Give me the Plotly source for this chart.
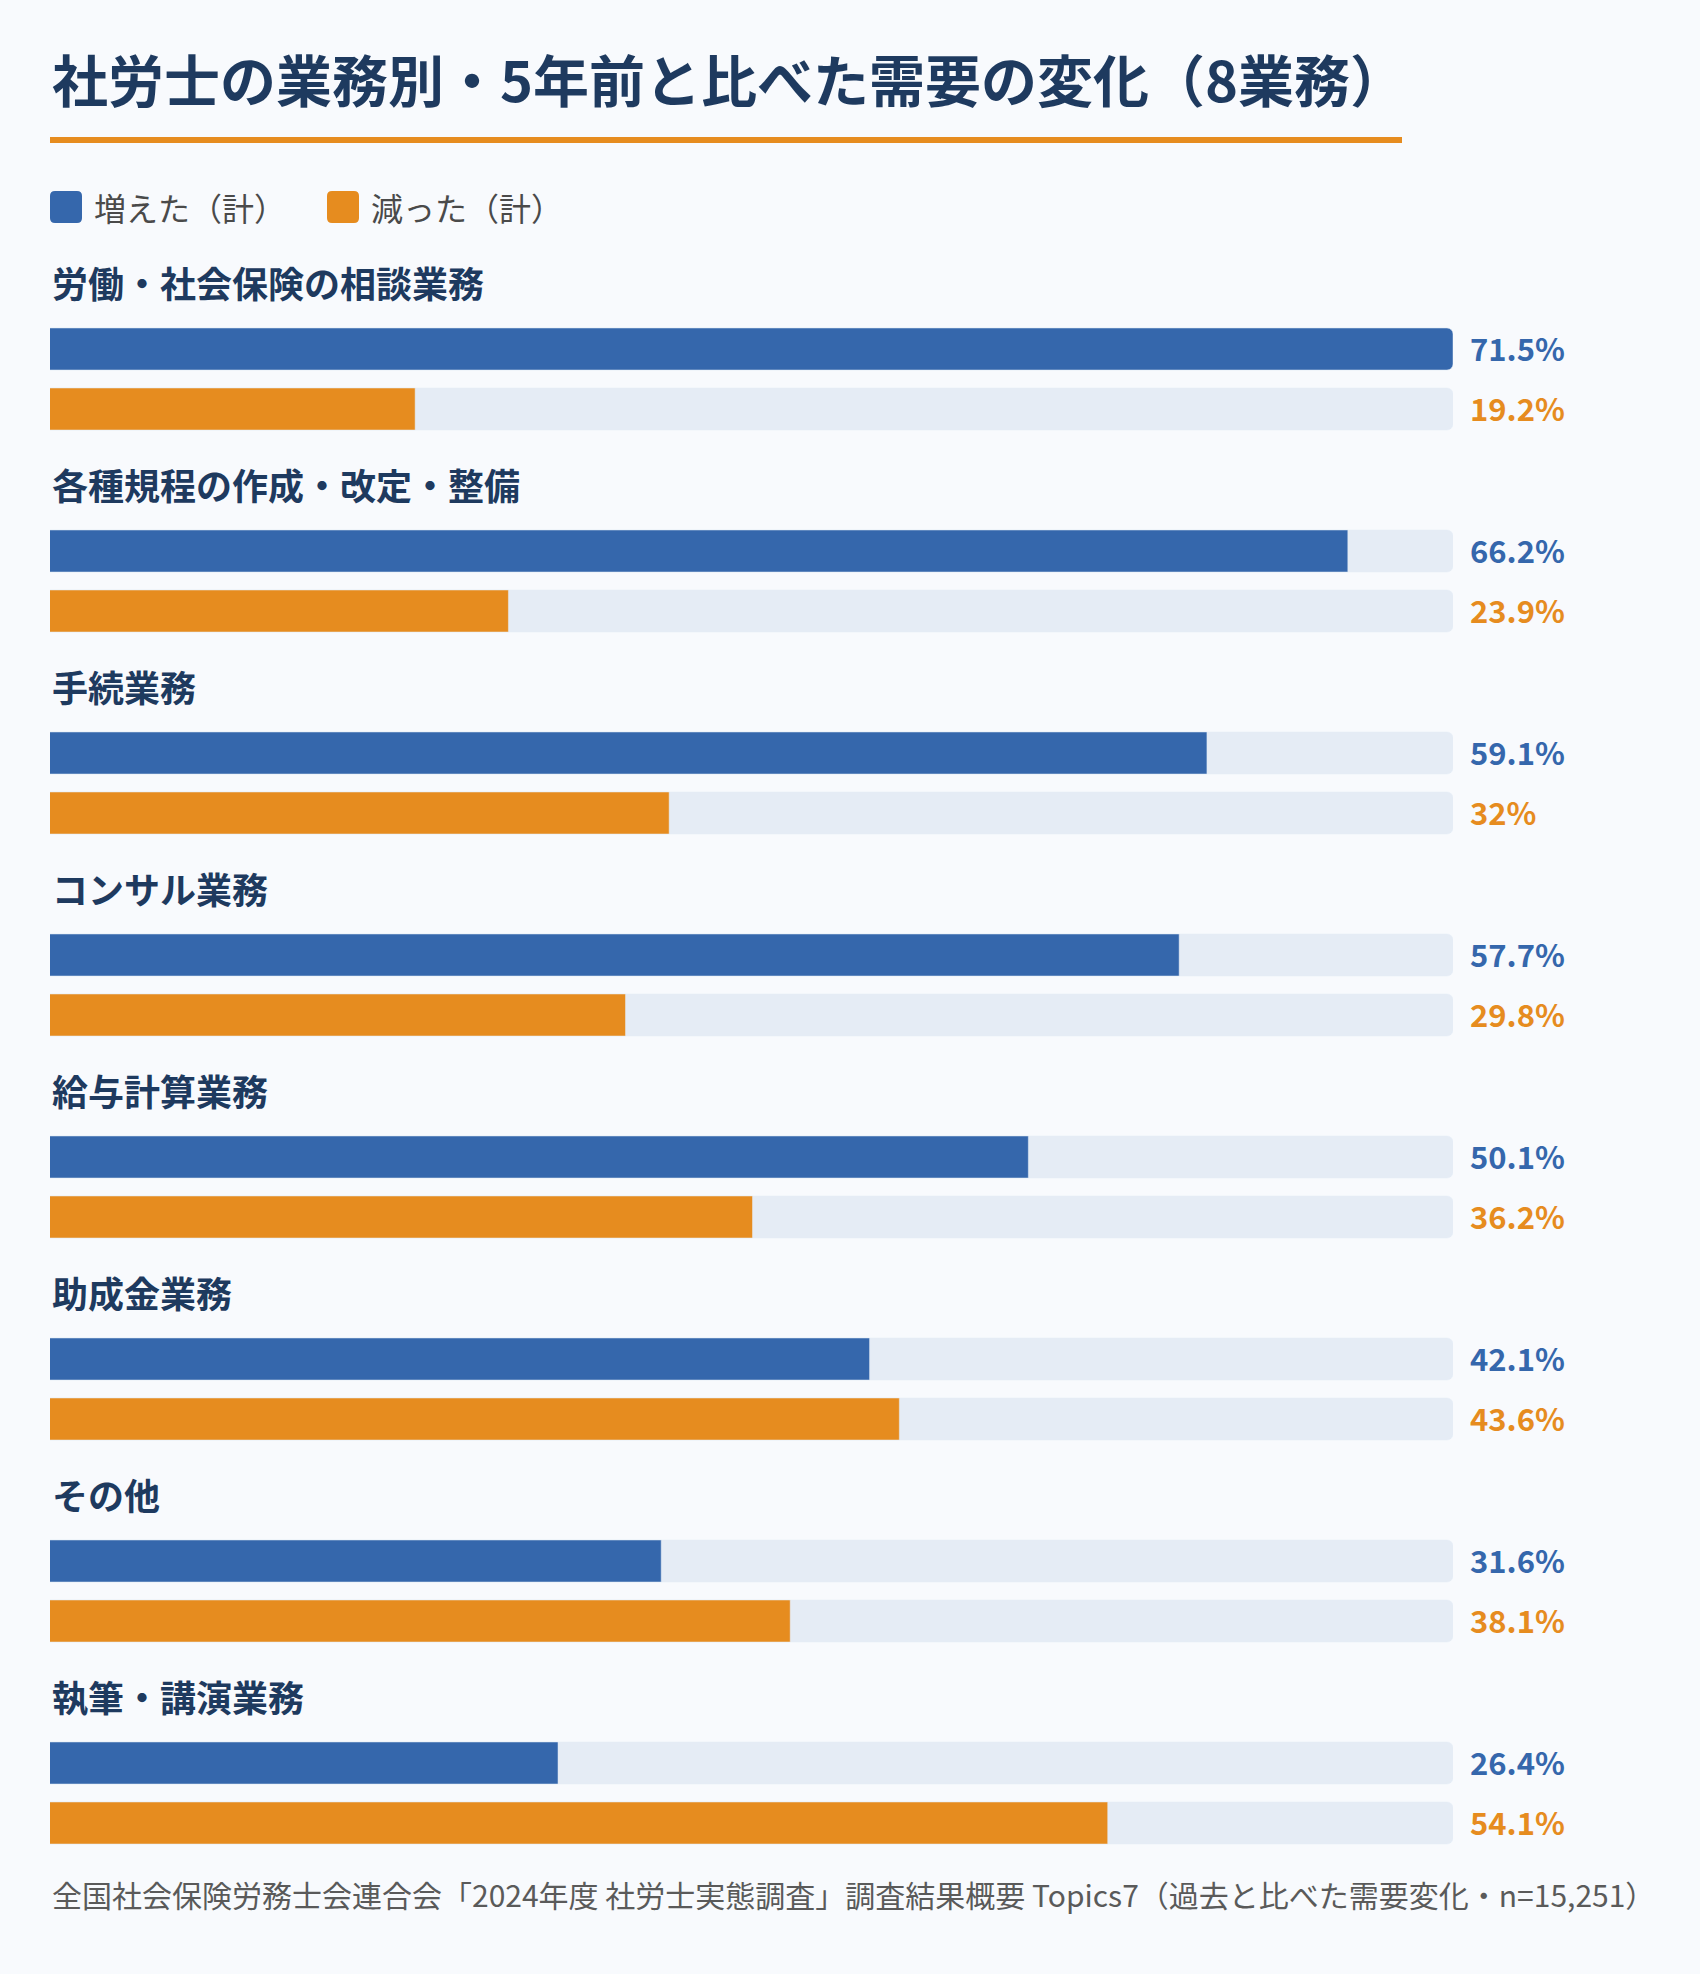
import plotly.graph_objects as go

# ---- data ----
categories = [
    "労働・社会保険の相談業務",
    "各種規程の作成・改定・整備",
    "手続業務",
    "コンサル業務",
    "給与計算業務",
    "助成金業務",
    "その他",
    "執筆・講演業務",
]
increased = [71.5, 66.2, 59.1, 57.7, 50.1, 42.1, 31.6, 26.4]
decreased = [19.2, 23.9, 32.0, 29.8, 36.2, 43.6, 38.1, 54.1]
series_names = ["増えた（計）", "減った（計）"]
title_text = "社労士の業務別・5年前と比べた需要の変化（8業務）"
source_text = "全国社会保険労務士会連合会「2024年度 社労士実態調査」調査結果概要 Topics7（過去と比べた需要変化・n=15,251）"

# ---- style ----
W, H = 1700, 1974
BG = "#F8FAFD"
TRACK = "#E5ECF5"
BLUE = "#3567AC"
ORANGE = "#E68C1F"
NAVY = "#1E3A5F"
FONT = "Noto Sans CJK JP"

X0, X1 = 50, 1453          # bar track left/right in px
xmax = max(increased + decreased)
XR = [0.8, xmax]           # value range shown across the track
GROUP_STEP = 202
LABEL_Y0 = 282
BAR_Y0 = 349
BAR_GAP = 60
BAR_H = 42

n = len(categories)
label_y = [LABEL_Y0 + GROUP_STEP * i for i in range(n)]
inc_y = [BAR_Y0 + GROUP_STEP * i for i in range(n)]
dec_y = [BAR_Y0 + BAR_GAP + GROUP_STEP * i for i in range(n)]

def fmt(v):
    return f"{v:g}%"

fig = go.Figure()
# tracks
fig.add_trace(go.Bar(x=[xmax] * n, y=inc_y, orientation="h",
                     width=BAR_H, marker_color=TRACK, showlegend=False, hoverinfo="skip"))
fig.add_trace(go.Bar(x=[xmax] * n, y=dec_y, orientation="h",
                     width=BAR_H, marker_color=TRACK, showlegend=False, hoverinfo="skip"))
# values
fig.add_trace(go.Bar(x=increased, y=inc_y, orientation="h", width=BAR_H,
                     marker_color=BLUE, name=series_names[0], showlegend=False))
fig.add_trace(go.Bar(x=decreased, y=dec_y, orientation="h", width=BAR_H,
                     marker_color=ORANGE, name=series_names[1], showlegend=False))

ann = []
shapes = []

# title
ann.append(dict(x=X0 / W, y=77, xref="paper", yref="y", text=f"<b>{title_text}</b>",
                showarrow=False, xanchor="left", yanchor="middle",
                font=dict(family=FONT, size=56, color=NAVY)))
shapes.append(dict(type="line", xref="paper", yref="y", x0=X0 / W, x1=1402 / W,
                   y0=140, y1=140, line=dict(color=ORANGE, width=6)))

# legend
def rrect(x0, y0, x1, y1, r):
    rx = r / W
    ax0, ax1 = x0 / W, x1 / W
    return (f"M{ax0+rx},{y0} L{ax1-rx},{y0} Q{ax1},{y0} {ax1},{y0+r} L{ax1},{y1-r} "
            f"Q{ax1},{y1} {ax1-rx},{y1} L{ax0+rx},{y1} Q{ax0},{y1} {ax0},{y1-r} "
            f"L{ax0},{y0+r} Q{ax0},{y0} {ax0+rx},{y0} Z")

legend_x = [50, 327]
for lx, name, col in zip(legend_x, series_names, [BLUE, ORANGE]):
    shapes.append(dict(type="path", xref="paper", yref="y",
                       path=rrect(lx, 191, lx + 32, 223, 5),
                       fillcolor=col, line=dict(width=0)))
    ann.append(dict(x=(lx + 42) / W, y=207, xref="paper", yref="y", text=name,
                    showarrow=False, xanchor="left", yanchor="middle",
                    font=dict(family=FONT, size=32, color="#4A4A4A")))

# group labels and value labels
for i, cat in enumerate(categories):
    ann.append(dict(x=X0 / W, y=label_y[i], xref="paper", yref="y", text=f"<b>{cat}</b>",
                    showarrow=False, xanchor="left", yanchor="middle",
                    font=dict(family=FONT, size=36, color=NAVY)))
    ann.append(dict(x=1468 / W, y=inc_y[i] - 2, xref="paper", yref="y", text=f"<b>{fmt(increased[i])}</b>",
                    showarrow=False, xanchor="left", yanchor="middle",
                    font=dict(family=FONT, size=31, color=BLUE)))
    ann.append(dict(x=1468 / W, y=dec_y[i] - 2, xref="paper", yref="y", text=f"<b>{fmt(decreased[i])}</b>",
                    showarrow=False, xanchor="left", yanchor="middle",
                    font=dict(family=FONT, size=31, color=ORANGE)))

# source
ann.append(dict(x=X0 / W, y=1894, xref="paper", yref="y", text=source_text,
                showarrow=False, xanchor="left", yanchor="middle",
                font=dict(family=FONT, size=30, color="#5A5A5A")))

fig.update_layout(
    width=W, height=H, autosize=False,
    margin=dict(l=0, r=0, t=0, b=0, pad=0),
    paper_bgcolor=BG, plot_bgcolor=BG,
    barmode="overlay", barcornerradius=6,
    showlegend=False,
    xaxis=dict(domain=[X0 / W, X1 / W], range=XR, visible=False, fixedrange=True),
    yaxis=dict(domain=[0, 1], range=[H, 0], visible=False, fixedrange=True),
    annotations=ann, shapes=shapes,
    font=dict(family=FONT),
)

fig.write_html("out.html", config={"displayModeBar": False},
               post_script="document.body.style.margin='0';document.body.style.overflow='hidden';")
